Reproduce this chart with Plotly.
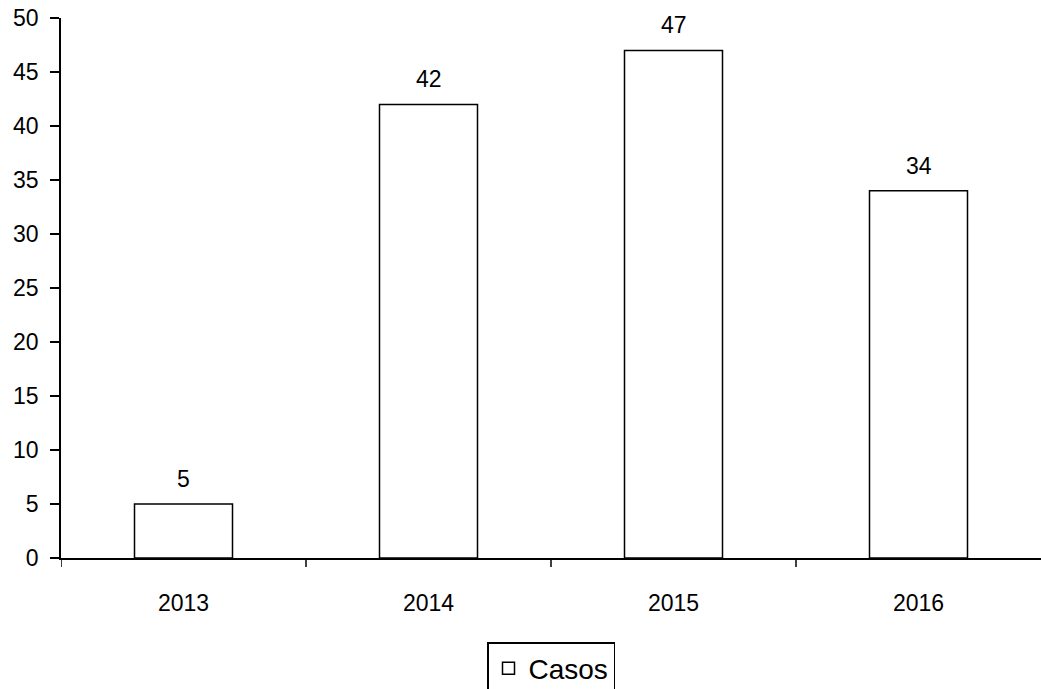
import plotly.graph_objects as go

years = ["2013", "2014", "2015", "2016"]
casos = [5, 42, 47, 34]
y_ticks = [0, 5, 10, 15, 20, 25, 30, 35, 40, 45, 50]

FONT = "Liberation Sans, Arial, sans-serif"

fig = go.Figure()
fig.add_trace(go.Bar(
    x=list(range(len(years))),
    y=casos,
    name="Casos",
    width=0.4,
    marker=dict(color="white", line=dict(color="black", width=1.5)),
    showlegend=True,
))

for i, v in enumerate(casos):
    fig.add_annotation(
        x=i, y=v, text=str(v), showarrow=False,
        yanchor="bottom", yshift=10,
        font=dict(family=FONT, size=23, color="black"),
    )

fig.update_layout(
    width=1041, height=689,
    margin=dict(l=61, r=0, t=18, b=131),
    plot_bgcolor="white", paper_bgcolor="white",
    font=dict(family=FONT, size=23, color="black"),
    bargap=0.6,
    legend=dict(
        orientation="h",
        x=0.5, xanchor="center",
        yref="container",
        y=1 - 642 / 689, yanchor="top",
        bordercolor="black", borderwidth=1.5,
        font=dict(family=FONT, size=28, color="black"),
        itemwidth=30,
    ),
    xaxis=dict(
        range=[-0.5, 3.5],
        tickmode="array",
        tickvals=list(range(len(years))),
        ticktext=years,
        tickfont=dict(family=FONT, size=23, color="black"),
        showgrid=False, zeroline=False,
        showline=True, linecolor="black", linewidth=1.5,
        ticks="",
        ticklabelstandoff=24,
        automargin=False,
    ),
    yaxis=dict(
        range=[0, 50],
        tickmode="array",
        tickvals=y_ticks,
        tickfont=dict(family=FONT, size=23, color="black"),
        showgrid=False, zeroline=False,
        showline=True, linecolor="black", linewidth=1.5,
        ticks="outside", ticklen=9, tickwidth=1.5, tickcolor="black",
        ticklabelstandoff=7,
        automargin=False,
    ),
)

# category boundary tick marks below the x axis
for b in [-0.5, 0.5, 1.5, 2.5]:
    fig.add_shape(
        type="line", xref="x", yref="paper",
        x0=b, x1=b, y0=0, y1=-9 / 540,
        line=dict(color="black", width=1.5),
    )

fig.write_html("out.html")
